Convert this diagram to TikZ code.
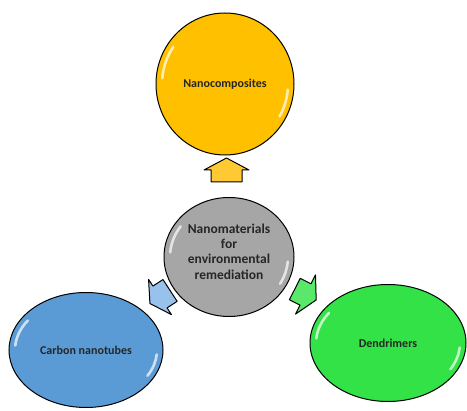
\documentclass[tikz,border=0pt]{standalone}
\usepackage{fontspec}
\setmainfont{Carlito}
\usetikzlibrary{shapes.geometric}

\definecolor{compyellow}{HTML}{FFC000}
\definecolor{coregray}{HTML}{A6A6A6}
\definecolor{tubeblue}{HTML}{5B9BD5}
\definecolor{dendgreen}{HTML}{33E247}
\definecolor{upyellow}{HTML}{FFC934}
\definecolor{leftblue}{HTML}{98C1EC}
\definecolor{rightgreen}{HTML}{5AE86A}

\tikzset{
  blob/.style={ellipse, draw=black, line width=1pt, inner sep=0pt,
    text=black!85, font=\bfseries\fontsize{12}{14}\selectfont},
  blockarrow/.style={draw=black, line width=1pt, line join=round},
  gloss/.style={white, line width=2.6pt, line cap=round, opacity=0.7}
}

\begin{document}
\begin{tikzpicture}[x=1pt,y=-1pt]
\useasboundingbox (0,0) rectangle (467,411);
% middle circle
\node[blob, fill=coregray, minimum width=130pt, minimum height=119pt,
  label={[name=corelabel, yshift=4pt, inner sep=0pt, text=black!85,
    font=\bfseries\fontsize{13.5}{15.3}\selectfont]center:%
    \begin{tabular}{@{}c@{}}Nanomaterials\\for\\environmental\\remediation\end{tabular}}]
  (core) at (229,257) {};
% outer circles
\node[blob, fill=compyellow, minimum width=138pt, minimum height=142pt]
  (composites) at (225,84) {Nanocomposites};
\node[blob, fill=tubeblue, minimum width=154pt, minimum height=115pt]
  (tubes) at (86,350) {Carbon nanotubes};
\node[blob, fill=dendgreen, minimum width=156pt, minimum height=117pt]
  (dendrimers) at (388,343) {Dendrimers};
% glossy streaks
\foreach \n/\rx/\ry in {core/59/53.5, composites/63/65,
    tubes/71/51.5, dendrimers/72/52.5}{
  \begin{scope}[shift={(\n.center)}, x=1pt, y=1pt]
    \draw[gloss] (145:\rx pt and \ry pt)
      arc[start angle=145, end angle=175, x radius=\rx pt, y radius=\ry pt];
    \draw[gloss] (-5:\rx pt and \ry pt)
      arc[start angle=-5, end angle=-30, x radius=\rx pt, y radius=\ry pt];
  \end{scope}
}
% arrows between the middle and the outer circles
\foreach \at/\turn/\tone/\half/\wing in {
    {(226.5,170)}/90/upyellow/15.5/22.5,
    {(305.5,294.5)}/-27/rightgreen/12/22,
    {(160,297)}/-147/leftblue/13/21}
  \draw[blockarrow, fill=\tone, shift=\at, rotate=\turn]
    (12,0) -- (0,\wing) -- (0,\half) -- (-12,\half) -- (-12,-\half)
    -- (0,-\half) -- (0,-\wing) -- cycle;
\end{tikzpicture}
\end{document}
